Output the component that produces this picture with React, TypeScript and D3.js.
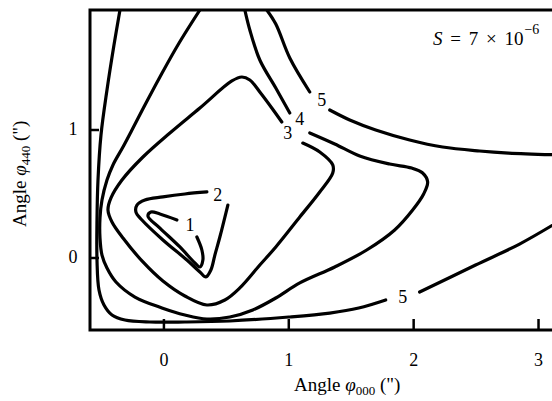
import React from 'react';
import * as d3 from 'd3';

// Angular ranges of the two scan axes (arc seconds)
const xDomain: [number, number] = [-0.592, 3.14];
const yDomain: [number, number] = [-0.5625, 1.9375];
const xTicks = [0, 1, 2, 3];
const yTicks = [0, 1];

// Contour lines of S, level 1 … 5 (x = φ000, y = φ440)
const contour1: [number, number][] = [
  [0.104, 0.297], [-0.032, 0.344], [-0.104, 0.359], [-0.128, 0.328], [-0.032, 0.234],
  [0.128, 0.086], [0.248, -0.039], [0.288, -0.07], [0.312, -0.016], [0.304, 0.0625], [0.264, 0.164],
];
const contour2: [number, number][] = [
  [0.344, 0.516], [0.168, 0.5], [-0.008, 0.477], [-0.152, 0.453], [-0.216, 0.414], [-0.224, 0.359],
  [-0.176, 0.297], [-0.008, 0.141], [0.184, -0.016], [0.288, -0.109], [0.336, -0.148],
  [0.376, -0.094], [0.408, 0.023], [0.448, 0.164], [0.512, 0.414],
];
const contour3: [number, number][] = [
  [0.944, 1.0625], [0.864, 1.172], [0.768, 1.297], [0.688, 1.391], [0.624, 1.414], [0.544, 1.383],
  [0.288, 1.172], [0.048, 0.977], [-0.168, 0.789], [-0.336, 0.609], [-0.424, 0.469], [-0.448, 0.375],
  [-0.416, 0.281], [-0.328, 0.156], [-0.168, -0.031], [-0.008, -0.18], [0.168, -0.297], [0.344, -0.367],
  [0.488, -0.328], [0.608, -0.234], [0.768, -0.055], [0.896, 0.086], [1.088, 0.32], [1.248, 0.516],
  [1.352, 0.664], [1.352, 0.727], [1.248, 0.828], [1.112, 0.898],
];
const contour4Upper: [number, number][] = [
  [0.648, 1.9375], [0.688, 1.781], [0.768, 1.547], [0.896, 1.328], [1.008, 1.133],
];
const contour4Loop: [number, number][] = [
  [1.168, 0.977], [1.368, 0.891], [1.568, 0.797], [1.808, 0.734], [1.984, 0.703], [2.072, 0.664],
  [2.112, 0.594], [2.08, 0.5], [1.992, 0.375], [1.848, 0.219], [1.624, 0.0625], [1.368, -0.07],
  [1.088, -0.195], [0.896, -0.3125], [0.712, -0.406], [0.528, -0.461], [0.344, -0.477], [0.168, -0.445],
  [-0.016, -0.39], [-0.232, -0.305], [-0.384, -0.1875], [-0.456, -0.078], [-0.496, 0.023],
  [-0.512, 0.156], [-0.512, 0.3125], [-0.496, 0.453], [-0.456, 0.609], [-0.408, 0.727],
  [-0.328, 0.867], [-0.256, 1.0], [-0.152, 1.195], [-0.032, 1.414], [0.112, 1.664], [0.288, 1.9375],
];
const contour5Outer: [number, number][] = [
  [-0.352, 1.9375], [-0.4, 1.664], [-0.456, 1.3125], [-0.504, 0.961], [-0.528, 0.609], [-0.536, 0.297],
  [-0.536, -0.016], [-0.52, -0.25], [-0.48, -0.367], [-0.416, -0.445], [-0.312, -0.484], [-0.112, -0.5],
  [0.168, -0.5], [0.528, -0.492], [1.0, -0.461], [1.328, -0.43], [1.56, -0.391], [1.776, -0.328],
];
const contour5Tail: [number, number][] = [
  [2.048, -0.266], [2.496, -0.055], [2.848, 0.109], [3.168, 0.289],
];
const contour5Upper: [number, number][] = [
  [0.824, 1.9375], [0.896, 1.828], [1.008, 1.5625], [1.168, 1.297],
];
const contour5Right: [number, number][] = [
  [1.328, 1.156], [1.488, 1.078], [1.696, 1.0], [1.968, 0.922], [2.232, 0.867], [2.528, 0.836],
  [2.76, 0.82], [3.168, 0.805],
];

const contourLines = [
  contour1, contour2, contour3, contour4Upper, contour4Loop,
  contour5Outer, contour5Tail, contour5Upper, contour5Right,
];

const labelText = ['1', '2', '3', '4', '5', '5'];
const labelX = [0.208, 0.432, 0.992, 1.088, 1.264, 1.912];
const labelY = [0.258, 0.492, 0.977, 1.086, 1.234, -0.305];

const W = 552;
const H = 401;
const left = 90;
const top = 10;
const bottom = 330;
const right = 556;

const FONT = '"Liberation Serif", "Times New Roman", serif';

export default function App() {
  const x = d3.scaleLinear().domain(xDomain).range([left, right]);
  const y = d3.scaleLinear().domain(yDomain).range([bottom, top]);
  const line = d3
    .line<[number, number]>()
    .x((d) => x(d[0]))
    .y((d) => y(d[1]))
    .curve(d3.curveCatmullRom.alpha(0.5));

  return (
    <svg
      width={W}
      height={H}
      viewBox={`0 0 ${W} ${H}`}
      style={{ position: 'absolute', left: 0, top: 0, background: '#fff' }}
      fontFamily={FONT}
    >
      <defs>
        <clipPath id="plot-area">
          <rect x={left} y={top} width={right - left} height={bottom - top} />
        </clipPath>
      </defs>
      <g clipPath="url(#plot-area)" fill="none" stroke="#000" strokeWidth={3.2} strokeLinecap="round" strokeLinejoin="round">
        {contourLines.map((c, i) => (
          <path key={i} d={line(c) ?? ''} />
        ))}
      </g>
      {labelText.map((t, i) => (
        <text key={i} x={x(labelX[i])} y={y(labelY[i])} textAnchor="middle" dominantBaseline="central" fontSize={18}>
          {t}
        </text>
      ))}
      {/* frame */}
      <rect x={left} y={top} width={right - left} height={bottom - top} fill="none" stroke="#000" strokeWidth={3} />
      {xTicks.map((t) => (
        <g key={t}>
          <line x1={x(t)} x2={x(t)} y1={bottom} y2={bottom - 11} stroke="#000" strokeWidth={2.5} />
          <text x={x(t)} y={366} textAnchor="middle" fontSize={18}>{t}</text>
        </g>
      ))}
      {yTicks.map((t) => (
        <g key={t}>
          <line x1={left} x2={left + 9} y1={y(t)} y2={y(t)} stroke="#000" strokeWidth={2.5} />
          <text x={73} y={y(t) + 5} textAnchor="middle" fontSize={18}>{t}</text>
        </g>
      ))}
      <text x={294} y={391} fontSize={19}>
        Angle <tspan fontStyle="italic">φ</tspan>
        <tspan fontSize={13} dy={4}>000</tspan>
        <tspan dy={-4}> (")</tspan>
      </text>
      <text transform="translate(26,227) rotate(-90)" fontSize={19}>
        Angle <tspan fontStyle="italic">φ</tspan>
        <tspan fontSize={13} dy={4}>440</tspan>
        <tspan dy={-4}> (")</tspan>
      </text>
      <text x={433} y={45} fontSize={19} wordSpacing={3}>
        <tspan fontStyle="italic">S</tspan> = 7 × 10
        <tspan fontSize={14} dy={-11} dx={1}>−6</tspan>
      </text>
    </svg>
  );
}
